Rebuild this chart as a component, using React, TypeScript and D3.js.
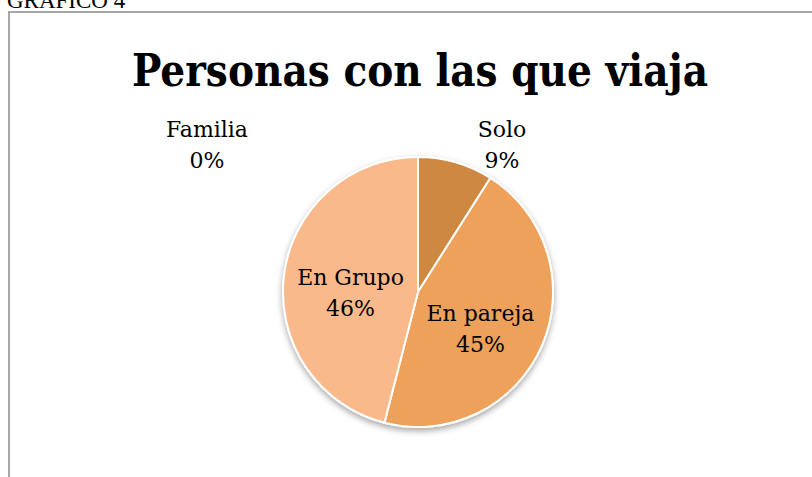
import React from "react";
import { pie, arc, scaleOrdinal, sum } from "d3";

// data
const categories = ["Solo", "En pareja", "En Grupo", "Familia"];
const values = [9, 45, 46, 0];
const colors = ["#CD8843", "#EDA15A", "#F9B98B", "#F4C49A"];

const titleText = "Personas con las que viaja";
const captionText = "GRÁFICO 4";

const W = 812;
const H = 477;

function App() {
  const cx = 418;
  const cy = 292;
  const radius = 135;

  const data = categories.map((name, i) => ({ name, value: values[i] }));
  const total = sum(values);

  const color = scaleOrdinal<string, string>().domain(categories).range(colors);

  const slices = pie<{ name: string; value: number }>()
    .value((d) => d.value)
    .sort(null)(data);

  const arcPath = arc<any>().innerRadius(0).outerRadius(radius);
  const labelArc = arc<any>().innerRadius(68).outerRadius(68);

  // small slices get their label outside, like excel's best fit
  const outside: Record<string, [number, number]> = {
    Solo: [84, -147],
    Familia: [-211, -147],
  };

  const labelPos = (d: any): [number, number] => {
    if (outside[d.data.name]) return outside[d.data.name];
    const [x, y] = labelArc.centroid(d);
    return [x, y + 10];
  };

  return (
    <svg
      width={W}
      height={H}
      style={{ position: "absolute", left: 0, top: 0, background: "#fff" }}
    >
      <defs>
        <filter id="shadow" x="-20%" y="-20%" width="140%" height="140%">
          <feDropShadow dx="0" dy="3" stdDeviation="3" floodColor="#000" floodOpacity="0.35" />
        </filter>
      </defs>

      <text
        x={7}
        y={8}
        fontFamily="Liberation Serif"
        fontSize={23}
        fill="#000"
      >
        {captionText}
      </text>

      <rect x={9} y={12} width={W + 20} height={H + 20} fill="#fff" stroke="#9e9e9e" strokeWidth={1.8} />

      <text
        x={420}
        y={86}
        textAnchor="middle"
        fontFamily="DejaVu Serif"
        fontWeight="bold"
        fontSize={44}
        textLength={576}
        lengthAdjust="spacingAndGlyphs"
        fill="#000"
      >
        {titleText}
      </text>

      <g transform={`translate(${cx},${cy})`}>
        <g filter="url(#shadow)">
          {slices.map((d) => (
            <path
              key={d.data.name}
              d={arcPath(d) || ""}
              fill={color(d.data.name)}
              stroke="#fff"
              strokeWidth={2}
            />
          ))}
        </g>
        {slices.map((d) => {
          const [x, y] = labelPos(d);
          const pct = Math.round((d.data.value / total) * 100) + "%";
          return (
            <text
              key={d.data.name}
              x={x}
              y={y}
              textAnchor="middle"
              fontFamily="DejaVu Serif"
              fontSize={22}
              fill="#000"
            >
              <tspan x={x} dy={-8}>
                {d.data.name}
              </tspan>
              <tspan x={x} dy={31}>
                {pct}
              </tspan>
            </text>
          );
        })}
      </g>
    </svg>
  );
}

export default App;
